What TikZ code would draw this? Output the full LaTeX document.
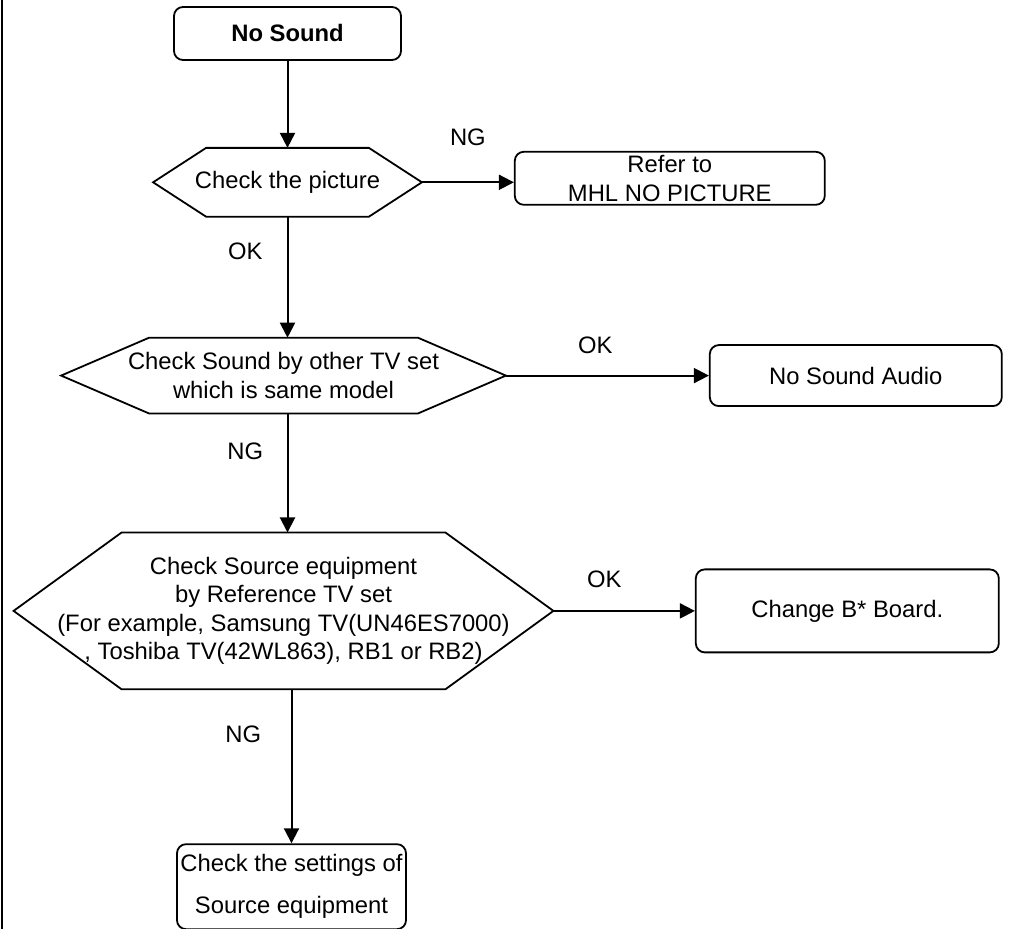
\documentclass[tikz,border=0pt]{standalone}
\usepackage{fontspec}
\setmainfont{Liberation Sans}
\usetikzlibrary{arrows.meta, positioning}

\begin{document}
\begin{tikzpicture}[
    font=\fontsize{11.9}{14.25}\selectfont,
    line width=0.9pt,
    >={Triangle[length=7.5pt, width=7.5pt]},
    box/.style={rectangle, draw, rounded corners=4.5pt, inner xsep=2pt, inner ysep=0pt, align=center},
    decision/.style={rectangle, inner sep=0pt, align=center},
    arrow/.style={->, line width=1pt},
    tag/.style={inner sep=0pt},
]
    \useasboundingbox (0,0) rectangle (511pt,-464.5pt);
    \draw (1pt,0) -- (1pt,-464.5pt);

    \node[box, minimum width=113.5pt, minimum height=26.5pt] (nosound) at (143.75pt,-16.75pt) {\textbf{No Sound}};
    \node[decision, minimum width=133.5pt, minimum height=33.5pt, below=43.5pt of nosound] (picture) {Check the picture};
    \node[box, minimum width=155pt, minimum height=26.5pt, right=46pt of picture, yshift=2pt] (refer) {Refer to\\MHL NO PICTURE};
    \node[decision, minimum width=221.5pt, minimum height=37pt, below=60.5pt of picture, xshift=-2pt] (othertv) {Check Sound by other TV set\\which is same model};
    \node[box, minimum width=146pt, minimum height=30.5pt, right=101.5pt of othertv] (audio) {No Sound Audio};
    \node[decision, minimum width=269pt, minimum height=77.5pt, below=59.5pt of othertv] (source) {Check Source equipment\\by Reference TV set\\(For example, Samsung TV(UN46ES7000)\\, Toshiba TV(42WL863), RB1 or RB2)};
    \node[box, minimum width=151.5pt, minimum height=41.5pt, right=70.75pt of source] (board) {Change B* Board.};
    \node[box, minimum width=114.5pt, minimum height=42.5pt, below=77pt of source, xshift=4pt, inner xsep=0pt, font=\fontsize{11.9}{21}\selectfont] (settings) {Check the settings of\\Source equipment};

    % hexagon outlines
    \foreach \hex/\cut in {picture/26.5pt, othertv/44pt, source/54pt}
      \draw (\hex.west) -- ([xshift=\cut]\hex.north west) -- ([xshift=-\cut]\hex.north east)
        -- (\hex.east) -- ([xshift=-\cut]\hex.south east) -- ([xshift=\cut]\hex.south west) -- cycle;

    \draw[arrow] (nosound) -- (picture);
    \draw[arrow] (picture) -- node[tag, pos=0.5, above=17.8pt] {NG} (picture.east -| refer.west);
    \draw[arrow] (picture) -- node[tag, pos=0.29, left=12pt] {OK} (picture |- othertv.north);
    \draw[arrow] (othertv) -- node[tag, pos=0.44, above=10.2pt] {OK} (audio);
    \draw[arrow] (picture |- othertv.south) -- node[tag, pos=0.32, left=11.7pt] {NG} (picture |- source.north);
    \draw[arrow] (source) -- node[tag, pos=0.36, above=11.2pt] {OK} (board);
    \draw[arrow] (settings |- source.south) -- node[tag, pos=0.29, left=14.7pt] {NG} (settings);
\end{tikzpicture}
\end{document}
